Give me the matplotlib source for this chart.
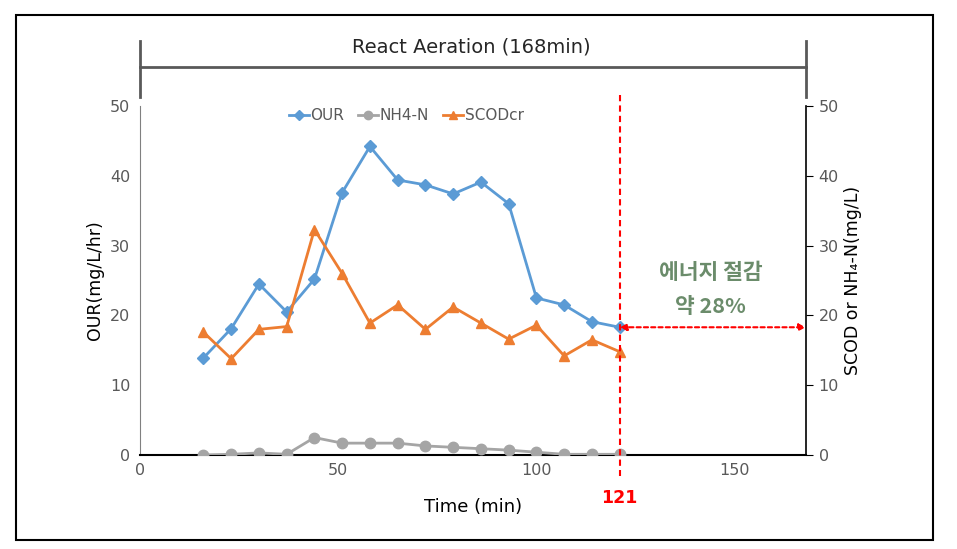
import matplotlib
matplotlib.use('Agg')
import matplotlib.pyplot as plt
from matplotlib.patches import Rectangle
from matplotlib.lines import Line2D

# data
time_min = [16, 23, 30, 37, 44, 51, 58, 65, 72, 79, 86, 93, 100, 107, 114, 121]
our = [13.9, 18.1, 24.5, 20.5, 25.2, 37.6, 44.2, 39.4, 38.7, 37.4, 39.1, 36.0,
       22.5, 21.5, 19.1, 18.3]
nh4_n = [0.0, 0.1, 0.3, 0.1, 2.5, 1.7, 1.7, 1.7, 1.3, 1.1, 0.9, 0.7, 0.4, 0.1,
         0.1, 0.1]
scod_cr = [17.6, 13.8, 18.0, 18.4, 32.3, 26.0, 18.9, 21.5, 18.0, 21.2, 18.9, 16.6,
           18.6, 14.2, 16.5, 14.8]
x_ticks = [0, 50, 100, 150]
y_ticks = [0, 10, 20, 30, 40, 50]
cut_time = 121
total_time = 168
saving_level = 18.3

narrow = ['Liberation Sans Narrow', 'DejaVu Sans']
korean = ['Noto Sans CJK KR', 'DejaVu Sans']
tick_grey = '#595959'

fig = plt.figure(figsize=(9.57, 5.49), dpi=100)
# outer frame around the whole picture
fig.patches.append(Rectangle((16 / 957, 1 - 540 / 549), 917 / 957, 525 / 549,
                             transform=fig.transFigure, fill=False,
                             edgecolor='black', linewidth=1.5))

ax = fig.add_axes([140 / 957, 1 - 455 / 549, 666 / 957, 349 / 549])
ax2 = ax.twinx()

ax.plot(time_min, our, color='#5B9BD5', marker='D', markersize=6, linewidth=2,
        label='OUR', zorder=3)
ax.plot(time_min, nh4_n, color='#A5A5A5', marker='o', markersize=7.5, linewidth=2,
        label='NH4-N', zorder=3)
ax.plot(time_min, scod_cr, color='#ED7D31', marker='^', markersize=7, linewidth=2,
        label='SCODcr', zorder=3)

for a in (ax, ax2):
    a.set_xlim(0, total_time)
    a.set_ylim(0, 50)
    a.set_yticks(y_ticks)
    a.spines['top'].set_visible(False)

ax.set_xticks(x_ticks)
ax.tick_params(axis='x', length=0, pad=6, labelcolor=tick_grey)
ax.tick_params(axis='y', length=0, pad=7, labelcolor=tick_grey)
ax2.tick_params(axis='y', direction='out', length=5, pad=4, labelcolor=tick_grey)
for lab in ax.get_xticklabels() + ax.get_yticklabels() + ax2.get_yticklabels():
    lab.set_fontfamily(narrow)
    lab.set_fontsize(11.5)

ax.spines['left'].set_color('#808080')
ax.spines['bottom'].set_linewidth(1.5)
ax.spines['right'].set_visible(False)
ax2.spines['left'].set_visible(False)
ax2.spines['bottom'].set_visible(False)
ax2.spines['right'].set_linewidth(1.2)

ax.set_xlabel('Time (min)', fontfamily=narrow, fontsize=13, labelpad=14)
ax.set_ylabel('OUR(mg/L/hr)', fontsize=12.5, labelpad=4)
ax2.set_ylabel('SCOD or NH\u2084-N(mg/L)', fontsize=12.5, labelpad=4)

leg = ax.legend(loc='upper center', bbox_to_anchor=(0.40, 1.03), ncol=3,
                frameon=False, handlelength=1.4, columnspacing=1.0,
                handletextpad=0.15, markerscale=0.8)
for t in leg.get_texts():
    t.set_fontfamily(narrow)
    t.set_fontsize(11)
    t.set_color(tick_grey)

# bracket marking the aeration phase
bracket_kw = dict(color='#595959', linewidth=2, clip_on=False)
ax.add_line(Line2D([0, total_time], [55.6, 55.6], **bracket_kw))
ax.add_line(Line2D([0, 0], [51.3, 59.3], **bracket_kw))
ax.add_line(Line2D([total_time, total_time], [51.3, 59.3], **bracket_kw))
ax.text(total_time * 0.497, 58.5, 'React Aeration (168min)', ha='center',
        va='center', fontsize=14, fontfamily=narrow, color='#262626')

# cut-off marker at 121 min
ax.add_line(Line2D([cut_time, cut_time], [51.6, -3.0], color='red',
                   linestyle=(0, (3, 2)), linewidth=1.5, clip_on=False, zorder=4))
ax.text(cut_time, -6.2, '121', ha='center', va='center', color='red',
        fontsize=12.5, fontweight='bold', fontfamily=narrow)
ax.annotate('', xy=(total_time, saving_level), xytext=(cut_time, saving_level),
            arrowprops=dict(arrowstyle='<|-|>', color='red', linestyle=(0, (2, 1.5)),
                            linewidth=1.5, mutation_scale=10, shrinkA=0, shrinkB=0))
ax.text(144, 26.2, '에너지 절감', ha='center', va='center', fontsize=15.5,
        fontweight='bold', color='#6B8C6B', fontfamily=korean)
ax.text(144, 21.3, '약 28%', ha='center', va='center', fontsize=15.5,
        fontweight='bold', color='#6B8C6B', fontfamily=korean)

fig.savefig('out.png', dpi=100)
